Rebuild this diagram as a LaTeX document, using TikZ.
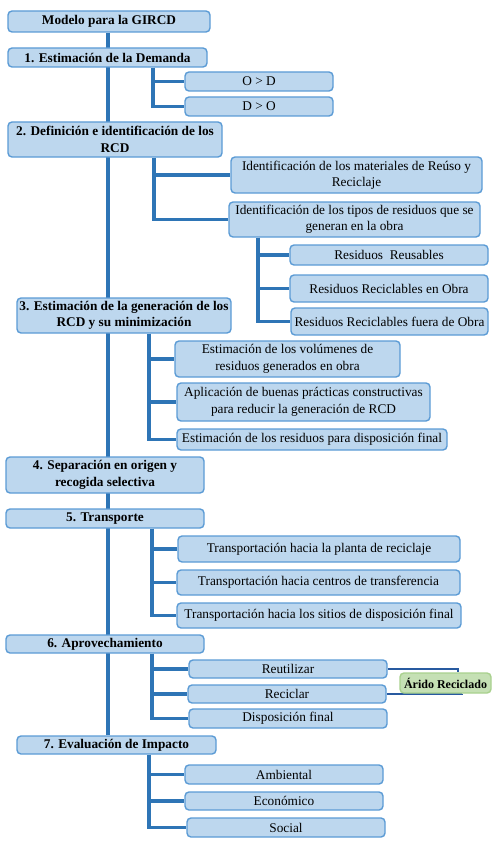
\documentclass[tikz,border=0pt]{standalone}
\usepackage{fontspec}
\setmainfont{Liberation Serif}
\usetikzlibrary{backgrounds}
\definecolor{boxfill}{RGB}{189,215,238}
\definecolor{boxline}{RGB}{91,155,213}
\definecolor{connline}{RGB}{46,117,182}
\definecolor{thinline}{RGB}{40,90,160}
\definecolor{greenfill}{RGB}{197,224,180}
\definecolor{greenline}{RGB}{169,209,142}
\tikzset{
  bx/.style={draw=boxline, fill=boxfill, line width=1.4pt, rounded corners=4pt,
    inner sep=0pt, align=center, font=\fontsize{13.3}{16.5}\selectfont},
  mainbx/.style={bx, font=\fontsize{13.3}{16.5}\selectfont\bfseries},
  greenbx/.style={bx, draw=greenline, fill=greenfill, font=\fontsize{12}{15}\selectfont\bfseries},
  conn/.style={draw=connline, line width=3.2pt},
  thinconn/.style={draw=thinline, line width=1.3pt},
}
\begin{document}
\begin{tikzpicture}[x=1pt,y=-1pt]
\useasboundingbox (0,0) rectangle (492,848);
% main column
\node[mainbx, minimum width=202, minimum height=21] (m0) at (109,21.5) {Modelo para la GIRCD};
\node[mainbx, minimum width=199, minimum height=19] (m1) at (107.5,57.5) {1. Estimación de la Demanda};
\node[mainbx, minimum width=214, minimum height=35] (m2) at (115,139.5) {2. Definición e identificación de los\\RCD};
\node[mainbx, minimum width=214, minimum height=35] (m3) at (124,315.5) {3. Estimación de la generación de los\\RCD y su minimización};
\node[mainbx, minimum width=198, minimum height=36] (m4) at (105,475) {4. Separación en origen y\\recogida selectiva};
\node[mainbx, minimum width=198, minimum height=19] (m5) at (105,518.5) {5. Transporte};
\node[mainbx, minimum width=198, minimum height=18] (m6) at (105,644) {6. Aprovechamiento};
\node[mainbx, minimum width=199, minimum height=18] (m7) at (116.5,745) {7. Evaluación de Impacto};
% children
\node[bx, minimum width=148, minimum height=19] (od) at (259,81.5) {O > D};
\node[bx, minimum width=148, minimum height=19] (do) at (259,106.5) {D > O};
\node[bx, minimum width=251, minimum height=36] (idmat) at (356.5,175) {Identificación de los materiales de Reúso y\\Reciclaje};
\node[bx, minimum width=251, minimum height=35] (idtip) at (354.5,219.5) {Identificación de los tipos de residuos que se\\generan en la obra};
\node[bx, minimum width=198, minimum height=20] (rreu) at (389,255) {Residuos\ \ Reusables};
\node[bx, minimum width=198, minimum height=27] (rrob) at (389,288.5) {Residuos Reciclables en Obra};
\node[bx, minimum width=197, minimum height=27] (rrfu) at (389.5,321.5) {Residuos Reciclables fuera de Obra};
\node[bx, minimum width=225, minimum height=36] (evol) at (287.5,359) {Estimación de los volúmenes de\\residuos generados en obra};
\node[bx, minimum width=253, minimum height=38] (apl) at (303.5,402) {Aplicación de buenas prácticas constructivas\\para reducir la generación de RCD};
\node[bx, minimum width=270, minimum height=21] (edf) at (312,439.5) {Estimación de los residuos para disposición final};
\node[bx, minimum width=282, minimum height=26] (t1) at (319,549) {Transportación hacia la planta de reciclaje};
\node[bx, minimum width=283, minimum height=25] (t2) at (318.5,582.5) {Transportación hacia centros de transferencia};
\node[bx, minimum width=284, minimum height=25] (t3) at (319,615.5) {Transportación hacia los sitios de disposición final};
\node[bx, minimum width=198, minimum height=18] (reu) at (288,669) {Reutilizar};
\node[bx, minimum width=198, minimum height=18] (rec) at (287,694) {Reciclar};
\node[bx, minimum width=198, minimum height=19] (dfin) at (288,718.5) {Disposición final};
\node[greenbx, minimum width=91, minimum height=20] (arido) at (445.5,683) {Árido Reciclado};
\node[bx, minimum width=198, minimum height=19] (amb) at (284,774.5) {Ambiental};
\node[bx, minimum width=198, minimum height=18] (eco) at (284,801) {Económico};
\node[bx, minimum width=198, minimum height=19] (soc) at (286,827.5) {Social};
% branch coordinates
\coordinate (sp) at (108,0);
\coordinate (b1) at (153,0);
\coordinate (b2) at (154,0);
\coordinate (bt) at (258,0);
\coordinate (b3) at (149,0);
\coordinate (b5) at (152,0);
\coordinate (b6) at (152,0);
\coordinate (b7) at (149,0);
\coordinate (ar1) at (458,0);
\coordinate (ar2) at (462,0);
\begin{scope}[on background layer]
\draw[conn] (m0.south -| sp) -- (m7.north -| sp);
\draw[conn] (m1.south -| b1) |- (od.west);
\draw[conn] (m1.south -| b1) |- (do.west);
\draw[conn] (m2.south -| b2) |- (idmat.west);
\draw[conn] (m2.south -| b2) |- (idtip.west);
\draw[conn] (idtip.south -| bt) |- (rreu.west);
\draw[conn] (idtip.south -| bt) |- (rrob.west);
\draw[conn] (idtip.south -| bt) |- (rrfu.west);
\draw[conn] (m3.south -| b3) |- (evol.west);
\draw[conn] (m3.south -| b3) |- (apl.west);
\draw[conn] (m3.south -| b3) |- (edf.west);
\draw[conn] (m5.south -| b5) |- (t1.west);
\draw[conn] (m5.south -| b5) |- (t2.west);
\draw[conn] (m5.south -| b5) |- (t3.west);
\draw[conn] (m6.south -| b6) |- (reu.west);
\draw[conn] (m6.south -| b6) |- (rec.west);
\draw[conn] (m6.south -| b6) |- (dfin.west);
\draw[conn] (m7.south -| b7) |- (amb.west);
\draw[conn] (m7.south -| b7) |- (eco.west);
\draw[conn] (m7.south -| b7) |- (soc.west);
\draw[thinconn] (reu.east) -| (arido.north -| ar1);
\draw[thinconn] (rec.east) -| (arido.south -| ar2);
\end{scope}
\end{tikzpicture}
\end{document}
